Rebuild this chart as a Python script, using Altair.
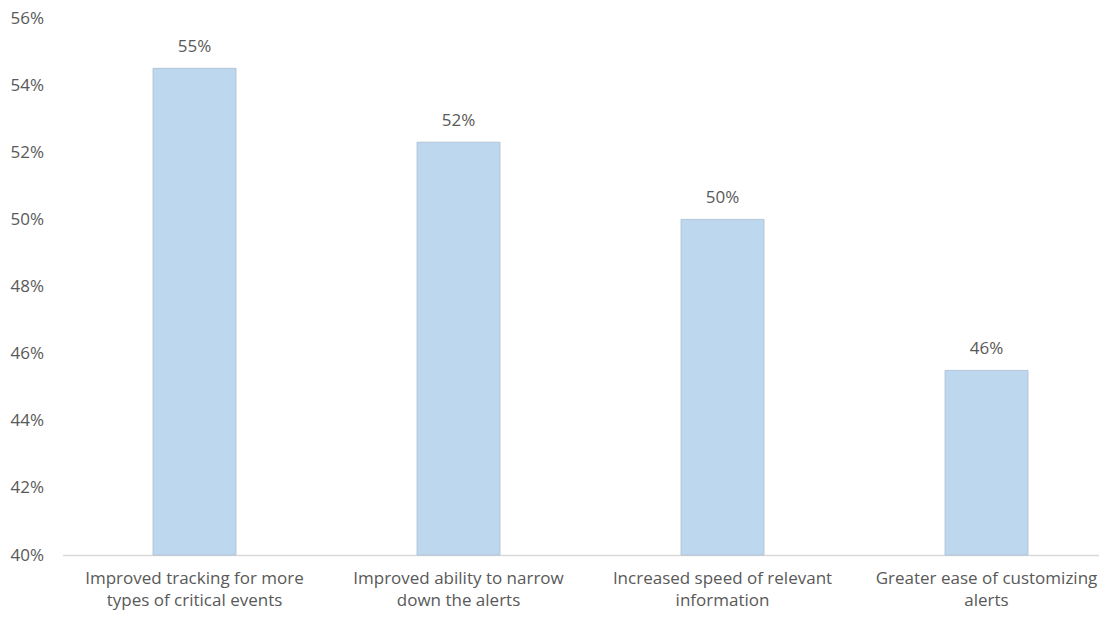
import altair as alt
import pandas as pd

categories = [
    "Improved tracking for more\ntypes of critical events",
    "Improved ability to narrow\ndown the alerts",
    "Increased speed of relevant\ninformation",
    "Greater ease of customizing\nalerts",
]
values = [0.545, 0.523, 0.500, 0.455]
labels = ["55%", "52%", "50%", "46%"]
y_ticks = [0.40, 0.42, 0.44, 0.46, 0.48, 0.50, 0.52, 0.54, 0.56]

df = pd.DataFrame({"cat": categories, "val": values, "lab": labels})

FONT = "Open Sans"
TXT = "#595959"
FS = 17

x = alt.X(
    "cat:N",
    sort=categories,
    title=None,
    scale=alt.Scale(paddingInner=0, paddingOuter=0, range=[0, 1056]),
    axis=alt.Axis(
        labelExpr="split(datum.label, '\\n')",
        labelAngle=0,
        labelFont=FONT,
        labelFontSize=FS,
        labelColor=TXT,
        labelPadding=15,
        labelLineHeight=22,
        labelBaseline="top",
        labelLimit=400,
        ticks=False,
        domainColor="#d9d9d9",
        domainWidth=1.5,
        grid=False,
    ),
)
y = alt.Y(
    "val:Q",
    title=None,
    scale=alt.Scale(domain=[0.40, 0.56], clamp=True, nice=False, zero=False),
    axis=alt.Axis(
        values=y_ticks,
        format=".0%",
        labelFont=FONT,
        labelFontSize=FS,
        labelColor=TXT,
        labelPadding=19,
        ticks=False,
        domain=False,
        grid=False,
    ),
)

bars = alt.Chart(df).mark_bar(
    size=83, color="#bdd7ee", stroke="#a9bdd2", strokeWidth=0.8
).encode(x=x, y=y)

text = alt.Chart(df).mark_text(
    font=FONT, fontSize=FS, color=TXT, baseline="alphabetic", dy=-16
).encode(x=alt.X("cat:N", sort=categories), y="val:Q", text="lab:N")

chart = (
    alt.layer(bars, text)
    .properties(
        width=1036.5,
        height=537,
        background="white",
        autosize=alt.AutoSizeParams(type="none"),
        padding={"left": 54.5, "top": 10, "right": 0, "bottom": 55},
    )
    .configure_view(strokeWidth=0, stroke=None)
)

chart.save("out.html", embed_options={"renderer": "svg", "actions": False})
